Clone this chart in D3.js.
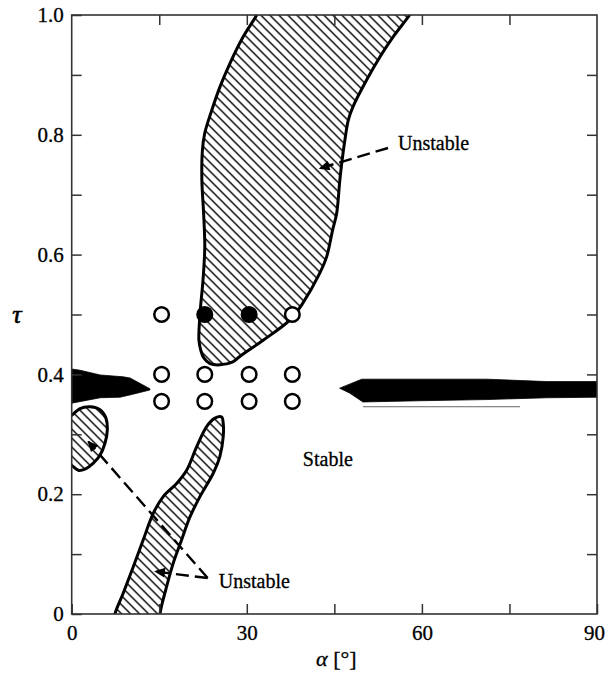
<!DOCTYPE html>
<html>
<head>
<meta charset="utf-8">
<script src="https://cdn.jsdelivr.net/npm/d3@7"></script>
<style>
  body { margin: 0; background: #fff; }
  svg text { font-family: "Liberation Serif", "DejaVu Serif", serif !important; }
</style>
</head>
<body>
<div id="chart"></div>
<script>
// axis ticks
const xTicks = [0, 30, 60, 90];
const xMinor = [15, 45, 75];
const yTicks = [0, 0.2, 0.4, 0.6, 0.8, 1.0];
const yMinor = [0.1, 0.3, 0.5, 0.7, 0.9];

// unstable regions, [alpha, tau]
const upperRegion = [[33.0,1.025],[31.7,1.0],[29.4,0.964],[27.1,0.919],[25.4,0.880],[24.0,0.841],[22.8,0.803],[22.4,0.775],[22.3,0.725],[22.6,0.669],[22.8,0.613],[22.5,0.558],[22.0,0.503],[21.8,0.457],[22.1,0.441],[22.6,0.428],[23.7,0.418],[25.4,0.416],[27.6,0.421],[28.8,0.430],[32.8,0.457],[37.4,0.491],[39.6,0.519],[42.5,0.569],[43.7,0.597],[44.7,0.641],[45.4,0.669],[45.9,0.720],[46.2,0.747],[46.8,0.791],[47.4,0.825],[48.2,0.847],[50.5,0.891],[52.8,0.930],[55.1,0.964],[57.9,1.0],[59.5,1.025]];
const lowerBand = [[7.0,-0.03],[7.41,0],[8.84,0.035],[10.55,0.079],[12.26,0.124],[13.97,0.168],[15.68,0.196],[17.98,0.218],[19.69,0.240],[21.40,0.279],[23.12,0.313],[24.54,0.327],[25.68,0.329],[25.96,0.318],[25.96,0.296],[25.39,0.263],[24.25,0.235],[21.97,0.196],[20.26,0.162],[18.84,0.124],[17.40,0.085],[16.27,0.046],[15.12,0],[15.0,-0.03]];
const cornerRegion = [[-1.5,0.325],[0,0.332],[1.42,0.343],[3.13,0.346],[4.85,0.341],[5.87,0.327],[6.10,0.307],[5.70,0.285],[4.85,0.265],[3.70,0.252],[2.28,0.242],[1.13,0.240],[0.27,0.246],[-1.5,0.262]];

// black bands
const leftSpike = [[-1,0.41],[0,0.409],[1.4,0.407],[4.9,0.399],[8.8,0.396],[10.0,0.394],[13.4,0.376],[13.4,0.374],[10.5,0.367],[8.3,0.362],[4.9,0.361],[0,0.352],[-1,0.352]];
const rightSpike = [[45.9,0.377],[49.7,0.392],[71.1,0.392],[81.4,0.388],[91,0.388],[91,0.362],[81.4,0.361],[71.1,0.358],[59.6,0.356],[49.9,0.354],[47.6,0.369]];
const thinLine = [[49.9,0.346],[76.8,0.346]];

// test points
const openAlpha = [15.4, 22.8, 30.4, 37.8];
const openTop = [15.4, 37.8];
const filledTop = [22.8, 30.4];
const rowTaus = [0.4, 0.355];
const topTau = 0.5;

// annotations
const labels = [
  {text: "Unstable", a: 55.9, t: 0.775},
  {text: "Stable", a: 39.6, t: 0.247},
  {text: "Unstable", a: 25.2, t: 0.043}
];
const arrows = [
  [[54.2,0.778],[42.5,0.744]],
  [[23.3,0.060],[2.84,0.288]],
  [[23.3,0.060],[14.3,0.071]]
];

const width = 606, height = 674;
const margin = {top: 15, right: 9, bottom: 60, left: 71.7};
const w = width - margin.left - margin.right;
const h = height - margin.top - margin.bottom;

const x = d3.scaleLinear().domain([0, 90]).range([0, w]);
const y = d3.scaleLinear().domain([0, 1]).range([h, 0]);

const svg = d3.select("#chart").append("svg")
  .attr("width", width)
  .attr("height", height);

const defs = svg.append("defs");
defs.append("clipPath").attr("id", "plotclip")
  .append("rect").attr("width", w).attr("height", h);

defs.append("pattern")
  .attr("id", "hatch")
  .attr("patternUnits", "userSpaceOnUse")
  .attr("width", 9).attr("height", 9)
  .append("path")
  .attr("d", "M0,0 L9,9 M-2,7 L2,11 M7,-2 L11,2")
  .attr("stroke", "#000")
  .attr("stroke-width", 1.4);

defs.append("marker")
  .attr("id", "head")
  .attr("viewBox", "0 0 10 10")
  .attr("refX", 9).attr("refY", 5)
  .attr("markerWidth", 5).attr("markerHeight", 4.5)
  .attr("markerUnits", "strokeWidth")
  .attr("orient", "auto")
  .append("path")
  .attr("d", "M0,0.5 L10,5 L0,9.5 Z")
  .attr("fill", "#000");

const g = svg.append("g")
  .attr("transform", "translate(" + margin.left + "," + margin.top + ")");

const plot = g.append("g").attr("clip-path", "url(#plotclip)");

const smooth = d3.line()
  .x(d => x(d[0]))
  .y(d => y(d[1]))
  .curve(d3.curveCatmullRom);
const straight = d3.line()
  .x(d => x(d[0]))
  .y(d => y(d[1]));

[upperRegion, lowerBand, cornerRegion].forEach(pts => {
  plot.append("path")
    .attr("d", smooth(pts) + "Z")
    .attr("fill", "url(#hatch)")
    .attr("stroke", "#000")
    .attr("stroke-width", 3)
    .attr("stroke-linejoin", "round");
});

[leftSpike, rightSpike].forEach(pts => {
  plot.append("path")
    .attr("d", straight(pts) + "Z")
    .attr("fill", "#000")
    .attr("stroke", "#000")
    .attr("stroke-width", 0.8);
});

plot.append("path")
  .attr("d", straight(thinLine))
  .attr("stroke", "#666")
  .attr("stroke-width", 1)
  .attr("fill", "none");

// arrows
arrows.forEach(a => {
  g.append("path")
    .attr("d", straight(a))
    .attr("stroke", "#000")
    .attr("stroke-width", 2.4)
    .attr("stroke-dasharray", "13,6")
    .attr("fill", "none")
    .attr("marker-end", "url(#head)");
});

// points
const pts = [];
rowTaus.forEach(t => openAlpha.forEach(a => pts.push({a: a, t: t, filled: false})));
openTop.forEach(a => pts.push({a: a, t: topTau, filled: false}));
filledTop.forEach(a => pts.push({a: a, t: topTau, filled: true}));

g.selectAll("circle.pt")
  .data(pts)
  .enter()
  .append("circle")
    .attr("class", "pt")
    .attr("cx", d => x(d.a))
    .attr("cy", d => y(d.t))
    .attr("r", 7.3)
    .attr("fill", d => d.filled ? "#000" : "#fff")
    .attr("stroke", "#000")
    .attr("stroke-width", 2.5);

// region labels
g.selectAll("text.lbl")
  .data(labels)
  .enter()
  .append("text")
    .attr("class", "lbl")
    .attr("x", d => x(d.a))
    .attr("y", d => y(d.t))
    .attr("font-size", 20)
    .attr("stroke", "#000")
    .attr("stroke-width", 0.3)
    .text(d => d.text);

// axes
function styleAxis(sel) {
  sel.select(".domain").remove();
  sel.selectAll(".tick line").attr("stroke", "#333").attr("stroke-width", 1.5);
  sel.selectAll(".tick text").attr("font-size", 21).attr("fill", "#000")
    .attr("stroke", "#000").attr("stroke-width", 0.3);
}

g.append("g")
  .attr("transform", "translate(0," + h + ")")
  .call(d3.axisBottom(x).tickValues(xTicks).tickSize(-10).tickPadding(11).tickFormat(d3.format("d")))
  .call(styleAxis)
  .call(s => s.selectAll(".tick text").filter(d => d === 90).attr("dx", -3));
g.append("g")
  .attr("transform", "translate(0," + h + ")")
  .call(d3.axisBottom(x).tickValues(xMinor).tickSize(-10).tickFormat(""))
  .call(styleAxis);
g.append("g")
  .call(d3.axisTop(x).tickValues(xMinor.concat(xTicks.slice(1, 3))).tickSize(-10).tickFormat(""))
  .call(styleAxis);

g.append("g")
  .call(d3.axisLeft(y).tickValues(yTicks).tickSize(-10).tickPadding(8)
    .tickFormat(d => d === 0 ? "0" : d3.format(".1f")(d)))
  .call(styleAxis);
g.append("g")
  .call(d3.axisLeft(y).tickValues(yMinor).tickSize(-10).tickFormat(""))
  .call(styleAxis);
g.append("g")
  .attr("transform", "translate(" + w + ",0)")
  .call(d3.axisRight(y).tickValues(yTicks.slice(1, 5).concat(yMinor)).tickSize(-10).tickFormat(""))
  .call(styleAxis);

g.append("rect")
  .attr("width", w).attr("height", h)
  .attr("fill", "none")
  .attr("stroke", "#333")
  .attr("stroke-width", 1.6);

// axis titles
const xt = svg.append("text")
  .attr("x", margin.left + w / 2 + 2)
  .attr("y", 666)
  .attr("text-anchor", "middle")
  .attr("font-size", 22)
  .attr("stroke", "#000")
  .attr("stroke-width", 0.3);
xt.append("tspan").attr("font-style", "italic").text("α");
xt.append("tspan").text(" [°]");

svg.append("text")
  .attr("x", 17)
  .attr("y", 323)
  .attr("text-anchor", "middle")
  .attr("font-size", 26)
  .attr("font-style", "italic")
  .attr("stroke", "#000")
  .attr("stroke-width", 0.6)
  .text("τ");
</script>
</body>
</html>
